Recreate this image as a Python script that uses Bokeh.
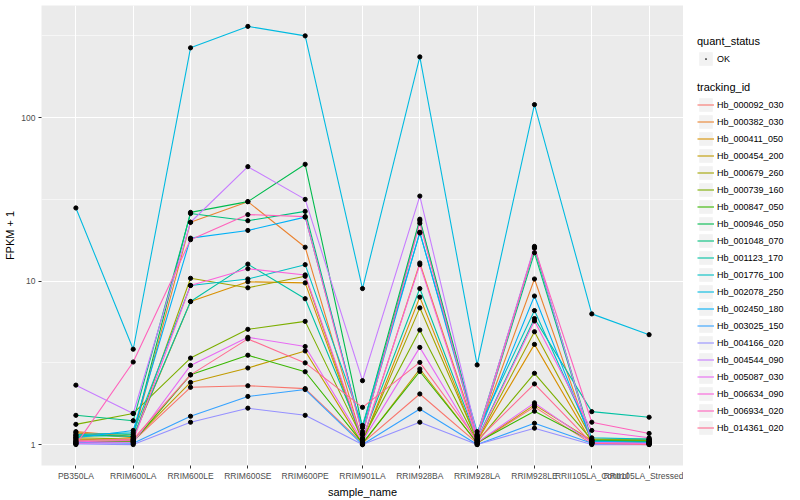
import math
from bokeh.plotting import figure
from bokeh.layouts import row
from bokeh.models import (Range1d, FixedTicker, PrintfTickFormatter, Legend,
                          LegendItem, ColumnDataSource)
from bokeh.embed import file_html
from bokeh.resources import INLINE

# ---------------- data ----------------
samples = ["PB350LA", "RRIM600LA", "RRIM600LE", "RRIM600SE", "RRIM600PE",
           "RRIM901LA", "RRIM928BA", "RRIM928LA", "RRIM928LE",
           "RRII105LA_Control", "RRII105LA_Stressed"]

tracking_ids = ["Hb_000092_030", "Hb_000382_030", "Hb_000411_050", "Hb_000454_200",
                "Hb_000679_260", "Hb_000739_160", "Hb_000847_050", "Hb_000946_050",
                "Hb_001048_070", "Hb_001123_170", "Hb_001776_100", "Hb_002078_250",
                "Hb_002450_180", "Hb_003025_150", "Hb_004166_020", "Hb_004544_090",
                "Hb_005087_030", "Hb_006634_090", "Hb_006934_020", "Hb_014361_020"]

colors = ["#F8766D", "#EA8331", "#D89000", "#C09B00", "#A3A500", "#7CAE00",
          "#39B600", "#00BB4E", "#00BF7D", "#00C1A3", "#00BFC4", "#00BAE0",
          "#00B0F6", "#35A2FF", "#9590FF", "#C77CFF", "#E76BF3", "#FA62DB",
          "#FF62BC", "#FF6C91"]

# FPKM + 1 per tracking id, in the order of `samples`
hb_000092_030 = [1.02, 1.05, 2.24, 2.29, 2.20, 1.02, 2.04, 1.02, 1.70, 1.01, 1.01]
hb_000382_030 = [1.20, 1.12, 22.9, 30.6, 16.1, 1.05, 12.9, 1.12, 10.3, 1.02, 1.02]
hb_000411_050 = [1.18, 1.10, 7.5, 9.9, 9.75, 1.03, 7.98, 1.05, 4.1, 1.03, 1.03]
hb_000454_200 = [1.08, 1.06, 2.40, 2.94, 3.74, 1.01, 2.9, 1.02, 1.75, 1.06, 1.06]
hb_000679_260 = [1.10, 1.08, 10.4, 9.1, 10.7, 1.04, 6.86, 1.06, 4.9, 1.08, 1.08]
hb_000739_160 = [1.33, 1.55, 3.38, 5.07, 5.67, 1.08, 5.02, 1.04, 2.73, 1.07, 1.07]
hb_000847_050 = [1.05, 1.04, 2.67, 3.52, 2.79, 1.02, 2.8, 1.03, 1.6, 1.05, 1.05]
hb_000946_050 = [1.12, 1.15, 26.3, 30.6, 51.8, 1.27, 23.9, 1.15, 15.9, 1.06, 1.04]
hb_001048_070 = [1.51, 1.40, 25.9, 23.4, 26.7, 1.16, 23.4, 1.10, 14.9, 1.04, 1.04]
hb_001123_170 = [1.14, 1.12, 7.5, 12.7, 7.8, 1.10, 9.0, 1.08, 5.9, 1.59, 1.47]
hb_001776_100 = [1.15, 1.18, 9.4, 10.3, 12.6, 1.31, 19.7, 1.20, 6.6, 1.10, 1.08]
hb_002078_250 = [28.0, 3.83, 267.0, 361.0, 316.0, 9.0, 235.0, 3.07, 120.0, 6.3, 4.7]
hb_002450_180 = [1.10, 1.22, 18.3, 20.4, 24.6, 1.20, 19.9, 1.12, 8.1, 1.05, 1.03]
hb_003025_150 = [1.03, 1.02, 1.49, 1.97, 2.17, 1.00, 1.65, 1.00, 1.35, 1.02, 1.02]
hb_004166_020 = [1.01, 1.00, 1.37, 1.67, 1.51, 1.00, 1.37, 1.00, 1.26, 1.00, 1.00]
hb_004544_090 = [2.31, 1.55, 22.9, 50.1, 31.6, 2.46, 33.1, 1.14, 16.3, 1.03, 1.02]
hb_005087_030 = [1.02, 1.03, 3.05, 4.53, 3.98, 1.05, 3.93, 1.03, 1.8, 1.03, 1.01]
hb_006634_090 = [1.04, 1.06, 9.4, 11.9, 10.9, 1.07, 12.6, 1.07, 5.7, 1.22, 1.10]
hb_006934_020 = [1.00, 3.2, 17.9, 25.5, 24.8, 1.15, 22.6, 1.09, 16.0, 1.37, 1.17]
hb_014361_020 = [1.06, 1.08, 2.67, 4.43, 3.16, 1.69, 3.18, 1.06, 2.35, 1.02, 1.00]

series = [hb_000092_030, hb_000382_030, hb_000411_050, hb_000454_200, hb_000679_260,
          hb_000739_160, hb_000847_050, hb_000946_050, hb_001048_070, hb_001123_170,
          hb_001776_100, hb_002078_250, hb_002450_180, hb_003025_150, hb_004166_020,
          hb_004544_090, hb_005087_030, hb_006634_090, hb_006934_020, hb_014361_020]

y_ticks = [1, 10, 100]
quant_status = "OK"

# ---------------- main figure ----------------
FONT = "Liberation Sans"
H = 500
xs = list(range(len(samples)))

all_vals = [v for s in series for v in s]
lo, hi = math.log10(min(all_vals)), math.log10(max(all_vals))
pad = 0.05 * (hi - lo)

p = figure(width=683, height=H, y_axis_type="log",
           x_range=Range1d(-0.6, len(samples) - 1 + 0.6),
           y_range=Range1d(10 ** (lo - pad), 10 ** (hi + pad)),
           output_backend="svg", toolbar_location=None,
           min_border_left=41, min_border_right=0, min_border_top=5,
           min_border_bottom=10)

p.background_fill_color = "#EBEBEB"
p.border_fill_color = "white"
p.outline_line_color = None

p.xaxis.ticker = FixedTicker(ticks=xs)
p.xaxis.major_label_overrides = {i: s for i, s in enumerate(samples)}
p.yaxis.ticker = FixedTicker(ticks=y_ticks,
                             minor_ticks=[10 ** (math.log10(t) + 0.5) for t in y_ticks])
p.yaxis.formatter = PrintfTickFormatter(format="%d")
for ax in (p.xaxis, p.yaxis):
    ax.axis_line_color = None
    ax.major_tick_line_color = "#333333"
    ax.major_tick_in = 0
    ax.major_tick_out = 3
    ax.minor_tick_line_color = None
    ax.major_label_text_font = FONT
    ax.major_label_text_font_size = "8.5px"
    ax.major_label_text_color = "#4D4D4D"
    ax.major_label_standoff = 2
    ax.axis_label_text_font = FONT
    ax.axis_label_text_font_size = "11px"
    ax.axis_label_text_font_style = "normal"
    ax.axis_label_text_color = "black"
    ax.axis_label_standoff = 2
p.xaxis.axis_label = "sample_name"
p.yaxis.axis_label = "FPKM + 1"

p.xgrid.ticker = FixedTicker(ticks=xs)
p.xgrid.grid_line_color = "white"
p.xgrid.grid_line_width = 1.1
p.ygrid.grid_line_color = "white"
p.ygrid.grid_line_width = 1.1
p.ygrid.minor_grid_line_color = "white"
p.ygrid.minor_grid_line_width = 0.55

for col, vals in zip(colors, series):
    p.line(xs, vals, line_color=col, line_width=1.1)

px, py = [], []
for vals in series:
    px.extend(xs)
    py.extend(vals)
src = ColumnDataSource(dict(x=px, y=py))
p.scatter("x", "y", source=src, size=4.2, marker="circle",
          fill_color="black", line_color="black")

# ---------------- legend panel ----------------
NAN = [float("nan")]
lg = figure(width=117, height=H, x_range=(0, 1), y_range=(0, 1),
            x_axis_location=None, y_axis_location=None,
            output_backend="svg", toolbar_location=None,
            min_border=0)
lg.outline_line_color = None
lg.grid.visible = False
lg.background_fill_color = "white"

key_bg = lg.rect(x=NAN, y=NAN, width=1, height=1, fill_color="#F2F2F2", line_color=None)
ok_dot = lg.scatter(x=NAN, y=NAN, marker="dot", size=4.2, line_width=4,
                    fill_color="black", line_color="black")
items = []
for tid, col in zip(tracking_ids, colors):
    r = lg.line(x=NAN, y=NAN, line_color=col, line_width=1.1)
    items.append(LegendItem(label=tid, renderers=[key_bg, r]))


def style(leg):
    leg.title_text_font = FONT
    leg.title_text_font_size = "11px"
    leg.title_text_font_style = "normal"
    leg.title_text_color = "black"
    leg.title_standoff = 3
    leg.label_text_font = FONT
    leg.label_text_font_size = "9px"
    leg.label_text_color = "black"
    leg.glyph_width = 17
    leg.glyph_height = 17
    leg.label_height = 17
    leg.label_standoff = 3
    leg.spacing = 0
    leg.padding = 0
    leg.margin = 0
    leg.background_fill_alpha = 0
    leg.border_line_color = None


leg1 = Legend(items=[LegendItem(label=quant_status, renderers=[key_bg, ok_dot])],
              title="quant_status", location=(14, 398))
style(leg1)
leg2 = Legend(items=items, title="tracking_id", location=(14, 29))
style(leg2)
lg.add_layout(leg1)
lg.add_layout(leg2)

layout = row(p, lg)
open("out.html", "w").write(file_html(layout, INLINE))
